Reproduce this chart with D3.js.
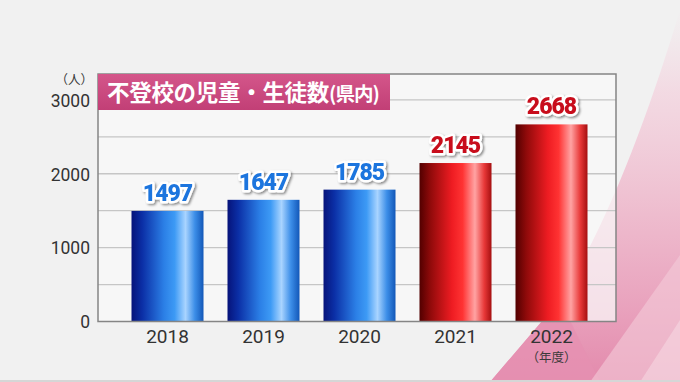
<!DOCTYPE html>
<html><head><meta charset="utf-8">
<script src="https://cdn.jsdelivr.net/npm/d3@7"></script>
<style>html,body{margin:0;padding:0;background:#f0f0f0;}svg{display:block;}</style>
</head><body>
<svg id="c" width="680" height="382"></svg>
<script>
const categories = ["2018","2019","2020","2021","2022"];
const values = [1497,1647,1785,2145,2668];
const colorGroup = ["blue","blue","blue","red","red"];
const yTicks = [0,1000,2000,3000];
const gridTicks = [500,1000,1500,2000,2500,3000];
const titleMain = "不登校の児童・生徒数";
const titleSub = "(県内)";
const yUnit = "（人）";
const xUnit = "（年度）";

const svg = d3.select("#c");
const W = 680, H = 382;
const fx = {l:98, r:616, t:74, b:321.5};
const defs = svg.append("defs");

// background
const bgG = defs.append("linearGradient").attr("id","bgpink").attr("x1",0).attr("y1",0).attr("x2",0).attr("y2",1);
bgG.append("stop").attr("offset","0").attr("stop-color","#f4d8e2").attr("stop-opacity",0);
bgG.append("stop").attr("offset","0.22").attr("stop-color","#f3d4df").attr("stop-opacity",0.8);
bgG.append("stop").attr("offset","0.55").attr("stop-color","#eebcce");
bgG.append("stop").attr("offset","0.8").attr("stop-color","#e9a2bd");
bgG.append("stop").attr("offset","1").attr("stop-color","#e38aac");
svg.append("rect").attr("width",W).attr("height",H).attr("fill","#f1f1f1");
svg.append("path").attr("d","M680,10 C650,110 610,220 560,300 L490,382 L680,382 Z").attr("fill","url(#bgpink)");
svg.append("path").attr("d","M560,300 L490,382 L600,382 Z").attr("fill","#e690b2").attr("opacity",0.75);
svg.append("path").attr("d","M590,382 L680,255 L680,382 Z").attr("fill","#f3cbd9").attr("opacity",0.6);
svg.append("path").attr("d","M640,382 L680,320 L680,382 Z").attr("fill","#f7dde6").attr("opacity",0.5);
svg.append("rect").attr("x",0).attr("y",380).attr("width",W).attr("height",2).attr("fill","#d6d6d6");

// gradients for bars
function barGrad(id, stops){
  const g = defs.append("linearGradient").attr("id",id).attr("x1",0).attr("y1",0).attr("x2",1).attr("y2",0);
  stops.forEach(s=>g.append("stop").attr("offset",s[0]).attr("stop-color",s[1]));
}
barGrad("gblue",[[0,"#06137a"],[0.15,"#0b2fa6"],[0.45,"#2b7fe6"],[0.6,"#3d9af5"],[0.75,"#a9d4ff"],[0.88,"#3c8ee8"],[1,"#1257b8"]]);
barGrad("gred",[[0,"#520000"],[0.15,"#8f0a0a"],[0.45,"#ee1c22"],[0.6,"#ff3333"],[0.77,"#ffa3a3"],[0.9,"#e83838"],[1,"#a50f10"]]);

const x = d3.scaleBand().domain(categories).range([119.5,599.5]).paddingInner(0.25).paddingOuter(0.125);
const y = d3.scaleLinear().domain([0,3350]).range([fx.b, fx.t]);

// plot background
svg.append("rect").attr("x",fx.l).attr("y",fx.t).attr("width",fx.r-fx.l).attr("height",fx.b-fx.t)
  .attr("fill","#fafafa").attr("fill-opacity",0.72);

// grid
svg.append("g").selectAll("line").data(gridTicks).join("line")
  .attr("x1",fx.l).attr("x2",fx.r).attr("y1",d=>y(d)).attr("y2",d=>y(d))
  .attr("stroke","#c6c6c6").attr("stroke-width",1.3);

// y axis labels
const yAxis = d3.axisLeft(y).tickValues(yTicks).tickSize(0).tickPadding(8).tickFormat(d3.format("d"));
const ya = svg.append("g").attr("transform",`translate(${fx.l},0)`).call(yAxis);
ya.select(".domain").remove();
ya.selectAll("text").attr("font-family","Roboto, 'Noto Sans', sans-serif").attr("font-size",17.5)
  .attr("font-weight",400).attr("fill","#333").attr("dy","0.36em");

svg.append("text").attr("x",93).attr("y",84).attr("text-anchor","end")
  .attr("font-family","'Noto Sans CJK JP', sans-serif").attr("font-size",12.5).attr("fill","#3a3a3a").text(yUnit);

// bars
svg.append("g").selectAll("rect").data(values).join("rect")
  .attr("x",(d,i)=>x(categories[i])).attr("width",x.bandwidth())
  .attr("y",d=>y(d)).attr("height",d=>fx.b-y(d))
  .attr("fill",(d,i)=>colorGroup[i]==="blue"?"url(#gblue)":"url(#gred)");

// frame
svg.append("rect").attr("x",fx.l).attr("y",fx.t).attr("width",fx.r-fx.l).attr("height",fx.b-fx.t)
  .attr("fill","none").attr("stroke","#858585").attr("stroke-width",1.5);

// x axis labels
const xAxis = d3.axisBottom(x).tickSize(0).tickPadding(0);
const xa = svg.append("g").attr("transform",`translate(0,${fx.b})`).call(xAxis);
xa.select(".domain").remove();
xa.selectAll("text").attr("font-family","Roboto, 'Noto Sans', sans-serif").attr("font-size",19)
  .attr("font-weight",400).attr("fill","#333").attr("y",21.5).attr("dy",0);
svg.append("text").attr("x",x("2022")+x.bandwidth()/2).attr("y",362).attr("text-anchor","middle")
  .attr("font-family","'Noto Sans CJK JP', sans-serif").attr("font-size",12.5).attr("fill","#3a3a3a").text(xUnit);

// value labels
const filt = defs.append("filter").attr("id","sh").attr("x","-20%").attr("y","-30%").attr("width","140%").attr("height","160%");
filt.append("feDropShadow").attr("dx",1.5).attr("dy",1.5).attr("stdDeviation",1).attr("flood-color","#000").attr("flood-opacity",0.45);
const vl = svg.append("g").selectAll("g").data(values).join("g").attr("filter","url(#sh)");
vl.append("text").attr("x",(d,i)=>x(categories[i])+x.bandwidth()/2).attr("y",d=>y(d)-10)
  .attr("text-anchor","middle").attr("font-family","Roboto, sans-serif").attr("font-weight",900)
  .attr("font-size",23).attr("letter-spacing",-1).attr("stroke","#fff").attr("stroke-width",5)
  .attr("stroke-linejoin","round").attr("fill","#fff").text(d=>d);
vl.append("text").attr("x",(d,i)=>x(categories[i])+x.bandwidth()/2).attr("y",d=>y(d)-10)
  .attr("text-anchor","middle").attr("font-family","Roboto, sans-serif").attr("font-weight",900)
  .attr("font-size",23).attr("letter-spacing",-1)
  .attr("fill",(d,i)=>colorGroup[i]==="blue"?"#1c74de":"#c8101c").text(d=>d);

// title box
const tg = defs.append("linearGradient").attr("id","tg").attr("x1",0).attr("y1",0).attr("x2",0).attr("y2",1);
tg.append("stop").attr("offset",0).attr("stop-color","#d4568a");
tg.append("stop").attr("offset",1).attr("stop-color","#c23f76");
svg.append("rect").attr("x",fx.l).attr("y",fx.t).attr("width",292).attr("height",36).attr("fill","url(#tg)");
const tt = svg.append("text").attr("x",107).attr("y",101).attr("font-family","'Noto Sans CJK JP', sans-serif")
  .attr("font-weight",700).attr("fill","#fff");
tt.append("tspan").attr("font-size",22.5).attr("letter-spacing",-0.3).text(titleMain);
tt.append("tspan").attr("font-size",19.5).attr("letter-spacing",-1).text(titleSub);
</script>
</body></html>
